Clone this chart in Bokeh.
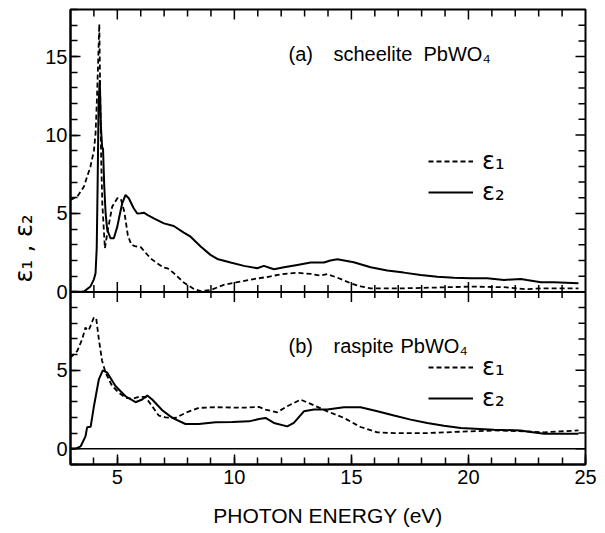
import math
from bokeh.plotting import figure
from bokeh.models import (Range1d, LinearAxis, FixedTicker, Span, Label, Legend, LegendItem)
from bokeh.embed import file_html
from bokeh.resources import INLINE

# ---------------- data ----------------
# (a) scheelite PbWO4
a_e1_x = [3.0, 3.3, 3.57, 3.85, 4.0, 4.07, 4.13, 4.18, 4.23, 4.27, 4.31, 4.36, 4.47, 4.57, 4.78,
          5.0, 5.15, 5.3, 5.45, 5.6, 5.75, 6.0, 6.15, 6.42, 6.7, 6.99, 7.15, 7.41, 7.84, 8.27,
          8.56, 8.98, 9.55, 10.12, 10.83, 11.4, 11.97, 12.69, 13.26, 13.68, 13.97, 14.4, 14.97,
          15.4, 15.82, 17.24, 18.67, 20.09, 21.52, 22.5, 23.09, 24.7]
a_e1_y = [5.86, 6.1, 6.7, 7.98, 9.0, 10.1, 12.3, 14.6, 17.07, 12.5, 8.5, 5.6, 2.78, 3.74, 5.43,
          5.97, 5.93, 5.1, 3.6, 3.0, 2.92, 2.85, 2.6, 2.14, 1.83, 1.55, 1.5, 1.2, 0.6, 0.19,
          0.05, 0.12, 0.45, 0.62, 0.82, 0.95, 1.12, 1.22, 1.15, 1.04, 1.13, 0.91, 0.55,
          0.35, 0.23, 0.23, 0.28, 0.34, 0.3, 0.17, 0.23, 0.23]
a_e2_x = [3.0, 3.4, 3.6, 3.85, 4.0, 4.07, 4.12, 4.16, 4.2, 4.25, 4.3, 4.35, 4.39, 4.44, 4.5,
          4.57, 4.71, 4.85, 5.0, 5.1, 5.21, 5.35, 5.49, 5.7, 5.85, 6.0, 6.13, 6.3, 6.56, 6.99,
          7.41, 7.84, 8.13, 8.56, 8.98, 9.27, 9.84, 10.41, 10.98, 11.26, 11.69, 12.12, 12.69,
          13.26, 13.83, 14.1, 14.4, 15.1, 15.82, 16.53, 17.24, 17.96, 18.67, 19.38, 20.09,
          20.8, 21.52, 22.23, 22.5, 23.09, 23.65, 24.7]
a_e2_y = [0.0, 0.0, 0.05, 0.34, 0.8, 1.19, 2.8, 7.0, 12.0, 13.5, 10.5, 9.26, 9.1, 6.8, 5.0,
          3.95, 3.42, 3.42, 4.16, 4.9, 5.65, 6.18, 5.97, 5.33, 5.0, 5.01, 5.05, 4.9, 4.69, 4.37,
          4.2, 3.78, 3.52, 2.89, 2.36, 2.1, 1.87, 1.66, 1.51, 1.66, 1.44, 1.57, 1.72,
          1.87, 1.87, 2.0, 2.08, 1.89, 1.57, 1.36, 1.23, 1.08, 0.97, 0.91, 0.87,
          0.87, 0.76, 0.83, 0.76, 0.62, 0.62, 0.55]

# (b) raspite PbWO4
b_e1_x = [3.0, 3.29, 3.5, 3.64, 3.72, 3.79, 3.9, 4.0, 4.1, 4.21, 4.35, 4.5, 4.78, 5.07, 5.35,
          5.64, 5.92, 6.2, 6.49, 6.77, 7.06, 7.49, 7.91, 8.48, 9.2, 9.91, 10.6, 11.05, 11.33,
          11.83, 12.26, 12.83, 13.26, 13.97, 14.68, 15.39, 16.11, 16.82, 18.24, 19.67, 21.09,
          22.52, 23.23, 23.94, 24.7]
b_e1_y = [5.81, 6.24, 6.99, 7.74, 7.55, 7.6, 8.0, 8.38, 8.3, 6.99, 5.6, 4.85, 4.0, 3.57, 3.25,
          3.19, 3.31, 3.31, 2.71, 2.12, 2.0, 1.97, 2.29, 2.61, 2.65, 2.63, 2.63, 2.67, 2.5,
          2.33, 2.71, 3.14, 2.86, 2.39, 1.97, 1.39, 1.05, 1.0, 1.0, 1.09, 1.17,
          1.11, 1.05, 1.11, 1.17]
b_e2_x = [3.0, 3.2, 3.43, 3.64, 3.71, 3.86, 4.0, 4.21, 4.38, 4.57, 4.92, 5.35, 5.78, 6.06, 6.28,
          6.49, 6.92, 7.35, 7.91, 8.48, 9.2, 9.91, 10.62, 11.05, 11.33, 11.69, 12.26, 12.54,
          12.97, 13.4, 13.97, 14.68, 15.39, 16.11, 16.82, 17.53, 18.24, 18.95, 19.67, 21.09,
          22.23, 22.5, 23.23, 23.94, 24.7]
b_e2_y = [0.0, 0.0, 0.15, 0.79, 1.37, 1.4, 2.71, 4.42, 5.0, 4.85, 4.0, 3.35, 2.97, 3.14, 3.4,
          3.14, 2.46, 1.97, 1.58, 1.58, 1.69, 1.71, 1.75, 1.9, 1.97, 1.65, 1.43, 1.65,
          2.39, 2.5, 2.5, 2.65, 2.65, 2.39, 2.12, 1.86, 1.65, 1.47, 1.33, 1.22,
          1.17, 1.11, 0.96, 0.96, 0.96]

x_major = [5, 10, 15, 20, 25]
x_minor = list(range(3, 26))
a_y_major = [0, 5, 10, 15]
a_y_minor = list(range(0, 19))
b_y_major = [0, 5]
b_y_minor = list(range(-1, 11))

title_a = ["(a)", "scheelite", "PbWO\u2084"]
title_b = ["(b)", "raspite", "PbWO\u2084"]
legend_labels = ["\u03b5\u2081", "\u03b5\u2082"]
y_label = "\u03b5\u2081 ,    \u03b5\u2082"
x_label = "PHOTON ENERGY (eV)"

# ---------------- layout ----------------
W, H = 605, 533
L, R, T, B = 70, 20, 9, 69
X0, X1 = 3, 25
A_LO, A_HI = 0, 18
B_LO, B_HI = -1, 10
OFF = B_HI - A_LO                         # bottom value 10 sits on top value 0
y_range = Range1d(A_LO - (B_HI - B_LO), A_HI)   # primary (top panel) coordinates
b_range = Range1d(B_LO, A_HI + OFF)             # bottom panel coordinates

p = figure(width=W, height=H, x_range=Range1d(X0, X1), y_range=y_range,
           output_backend="svg", toolbar_location=None,
           min_border_left=L, min_border_right=R, min_border_top=T, min_border_bottom=B)
p.extra_y_ranges = {"b": b_range}
p.xgrid.visible = False
p.ygrid.visible = False
for ax in list(p.below) + list(p.left):
    ax.visible = False
p.below.clear()
p.left.clear()
p.outline_line_color = "black"
p.outline_line_width = 2
p.background_fill_color = "white"
p.border_fill_color = "white"

FONT = "Liberation Sans"
MAJ, MIN = 10, 7


def style(ax):
    ax.major_tick_in = MAJ
    ax.major_tick_out = 0
    ax.minor_tick_in = MIN
    ax.minor_tick_out = 0
    ax.axis_line_width = 2
    ax.major_tick_line_width = 1.5
    ax.minor_tick_line_width = 1.5
    ax.major_label_text_font = FONT
    ax.major_label_text_color = "black"
    ax.major_label_text_font_size = "20px"
    ax.axis_label_text_color = "black"
    ax.axis_label_text_font_style = "normal"


y_ticks = a_y_major + [t - OFF for t in b_y_major]
y_minor = sorted(set(a_y_minor + [t - OFF for t in b_y_minor]))
y_over = {t - OFF: str(t) for t in b_y_major}

left = LinearAxis(ticker=FixedTicker(ticks=y_ticks, minor_ticks=y_minor))
style(left)
left.major_label_standoff = 3
left.major_label_overrides = y_over
left.axis_label = y_label
left.axis_label_text_font = "DejaVu Sans"
left.axis_label_text_font_size = "24px"
left.axis_label_standoff = 4

below = LinearAxis(ticker=FixedTicker(ticks=x_major, minor_ticks=x_minor))
style(below)
below.major_label_standoff = 5
below.axis_label = x_label
below.axis_label_text_font = FONT
below.axis_label_text_font_size = "21px"
below.axis_label_standoff = 17
p.add_layout(left, "left")
p.add_layout(below, "below")

# inward ticks on the right and top edges, and crossing ticks on the panel divider
yr_maj = [t for t in y_ticks if y_range.start < t < y_range.end]
yr_min = [t for t in y_minor if y_range.start < t < y_range.end and t not in y_ticks]
xt_maj = [t for t in x_major if X0 < t < X1]
xt_min = [t for t in x_minor if X0 < t < X1 and t not in x_major]
tick_kw = dict(line_color="black", line_width=1.5, length_units="screen")
p.ray([X1] * len(yr_maj), yr_maj, length=MAJ, angle=math.pi, **tick_kw)
p.ray([X1] * len(yr_min), yr_min, length=MIN, angle=math.pi, **tick_kw)
p.ray(xt_maj, [A_HI] * len(xt_maj), length=MAJ, angle=-math.pi / 2, **tick_kw)
p.ray(xt_min, [A_HI] * len(xt_min), length=MIN, angle=-math.pi / 2, **tick_kw)
p.ray(xt_maj, [A_LO] * len(xt_maj), length=MAJ, angle=math.pi / 2, **tick_kw)
p.ray(xt_min, [A_LO] * len(xt_min), length=MIN, angle=math.pi / 2, **tick_kw)
p.ray(xt_maj, [A_LO] * len(xt_maj), length=MAJ, angle=-math.pi / 2, **tick_kw)
p.ray(xt_min, [A_LO] * len(xt_min), length=MIN - 1, angle=-math.pi / 2, **tick_kw)

# panel divider (top panel zero line) and zero line of panel (b)
p.add_layout(Span(location=A_LO, dimension="width", line_color="black", line_width=2))
p.add_layout(Span(location=0, dimension="width", y_range_name="b", line_color="black",
                  line_width=1.5))

# curves
ra1 = p.line(a_e1_x, a_e1_y, line_color="black", line_width=1.8, line_dash="5 3")
ra2 = p.line(a_e2_x, a_e2_y, line_color="black", line_width=2)
rb1 = p.line(b_e1_x, b_e1_y, y_range_name="b", line_color="black", line_width=1.8,
             line_dash="5 3")
rb2 = p.line(b_e2_x, b_e2_y, y_range_name="b", line_color="black", line_width=2)


def make_legend(r1, r2, loc):
    lg = Legend(items=[LegendItem(label=legend_labels[0], renderers=[r1]),
                       LegendItem(label=legend_labels[1], renderers=[r2])],
                location=loc, orientation="vertical")
    lg.glyph_width = 45
    lg.glyph_height = 28
    lg.label_height = 28
    lg.label_standoff = 9
    lg.spacing = 3
    lg.padding = 0
    lg.margin = 0
    lg.border_line_alpha = 0
    lg.background_fill_alpha = 0
    lg.label_text_font = "DejaVu Sans"
    lg.label_text_font_size = "24px"
    lg.label_text_color = "black"
    return lg


p.add_layout(make_legend(ra1, ra2, (358, 258)))
p.add_layout(make_legend(rb1, rb2, (358, 52)))


# text placement helpers (pixel -> data, for annotation positions only)
def xd(px):
    return X0 + (px - L) * (X1 - X0) / (W - L - R)


def yd(py):
    return y_range.end - (py - T) * (y_range.end - y_range.start) / (H - T - B)


for txt, px in zip(title_a, [288, 333, 423]):
    p.add_layout(Label(x=xd(px), y=yd(53), text=txt, text_font=FONT, text_font_size="20px",
                       text_align="left", text_baseline="alphabetic", text_color="black"))
for txt, px in zip(title_b, [288, 333, 400]):
    p.add_layout(Label(x=xd(px), y=yd(345), text=txt, text_font=FONT, text_font_size="20px",
                       text_align="left", text_baseline="alphabetic", text_color="black"))

open("out.html", "w").write(file_html(p, INLINE))
